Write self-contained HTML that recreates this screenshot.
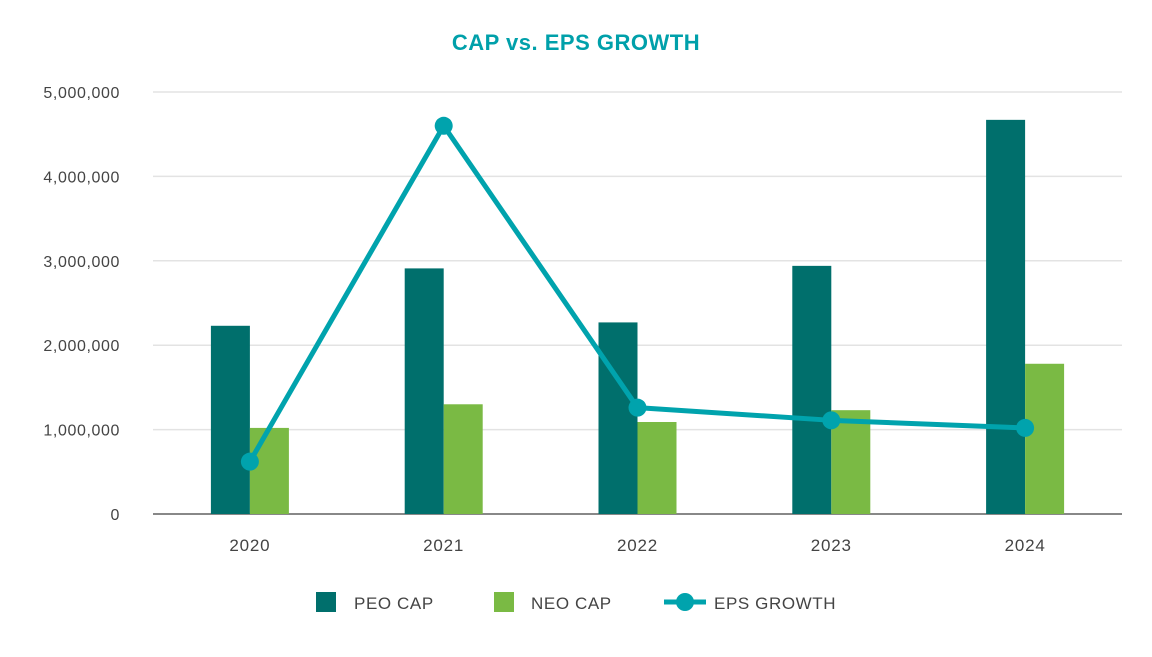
<!DOCTYPE html>
<html><head><meta charset="utf-8"><style>
body{margin:0;background:#fff;width:1152px;height:652px;overflow:hidden;font-family:"Liberation Sans",sans-serif}
</style></head><body>
<svg id="c" width="1152" height="652">
<text x="576" y="50" text-anchor="middle" font-size="22" font-weight="bold" letter-spacing="0.5" fill="#00a0aa">CAP vs. EPS GROWTH</text>
<g id="grid"></g><g id="bars"></g><g id="line"></g>
<g>
<rect x="316" y="592" width="20" height="20" fill="#006f6c"/>
<text x="354" y="609" font-size="17" letter-spacing="0.6" fill="#444">PEO CAP</text>
<rect x="494" y="592" width="20" height="20" fill="#7aba44"/>
<text x="531" y="609" font-size="17" letter-spacing="0.6" fill="#444">NEO CAP</text>
<line x1="664" y1="602" x2="706" y2="602" stroke="#00a3ad" stroke-width="5"/>
<circle cx="685" cy="602" r="9" fill="#00a3ad"/>
<text x="714" y="609" font-size="17" letter-spacing="0.6" fill="#444">EPS GROWTH</text>
</g>
</svg>
<script>
const categories=["2020","2021","2022","2023","2024"];
const peoCap=[2230000,2910000,2270000,2940000,4670000];
const neoCap=[1020000,1300000,1090000,1230000,1780000];
const epsGrowth=[620000,4600000,1260000,1110000,1020000];
const yTicks=[0,1000000,2000000,3000000,4000000,5000000];
const yTickLabels=["0","1,000,000","2,000,000","3,000,000","4,000,000","5,000,000"];
const NS="http://www.w3.org/2000/svg";
const x0=153,x1=1122,y0=514,yTop=92,yMax=5000000;
const band=(x1-x0)/categories.length;
function xC(i){return x0+band*(i+0.5);}
function yS(v){return y0-(v/yMax)*(y0-yTop);}
function mk(t,a,p){const e=document.createElementNS(NS,t);for(const k in a)e.setAttribute(k,a[k]);p.appendChild(e);return e;}
const grid=document.getElementById('grid');
yTicks.forEach((v,i)=>{
 const l=mk('line',{x1:x0,x2:x1,y1:yS(v),y2:yS(v),stroke:i==0?'#888':'#e3e3e3','stroke-width':i==0?2:1.5},grid);
 
 
 const t=mk('text',{x:120,y:yS(v)+6,'text-anchor':'end','font-size':16,'letter-spacing':0.6,fill:'#444'},grid);
 t.textContent=yTickLabels[i];
 
 
});
categories.forEach((c,i)=>{
 const t=mk('text',{x:xC(i),y:551,'text-anchor':'middle','font-size':17,'letter-spacing':0.8,fill:'#444'},grid);
 t.textContent=c;
 
 
});
const bars=document.getElementById('bars');const bw=39;
categories.forEach((c,i)=>{
 const b1=mk('rect',{x:xC(i)-bw,y:yS(peoCap[i]),width:bw,height:y0-yS(peoCap[i]),fill:'#006f6c'},bars);
 
 
 const b2=mk('rect',{x:xC(i),y:yS(neoCap[i]),width:bw,height:y0-yS(neoCap[i]),fill:'#7aba44'},bars);
 
 
});
const lg=document.getElementById('line');
const pl=mk('polyline',{points:epsGrowth.map((v,i)=>xC(i)+','+yS(v)).join(' '),fill:'none',stroke:'#00a3ad','stroke-width':5,'stroke-linejoin':'round'},lg);


epsGrowth.forEach((v,i)=>{
 const p=mk('circle',{cx:xC(i),cy:yS(v),r:9,fill:'#00a3ad'},lg);
 
 
});
</script>
</body></html>
